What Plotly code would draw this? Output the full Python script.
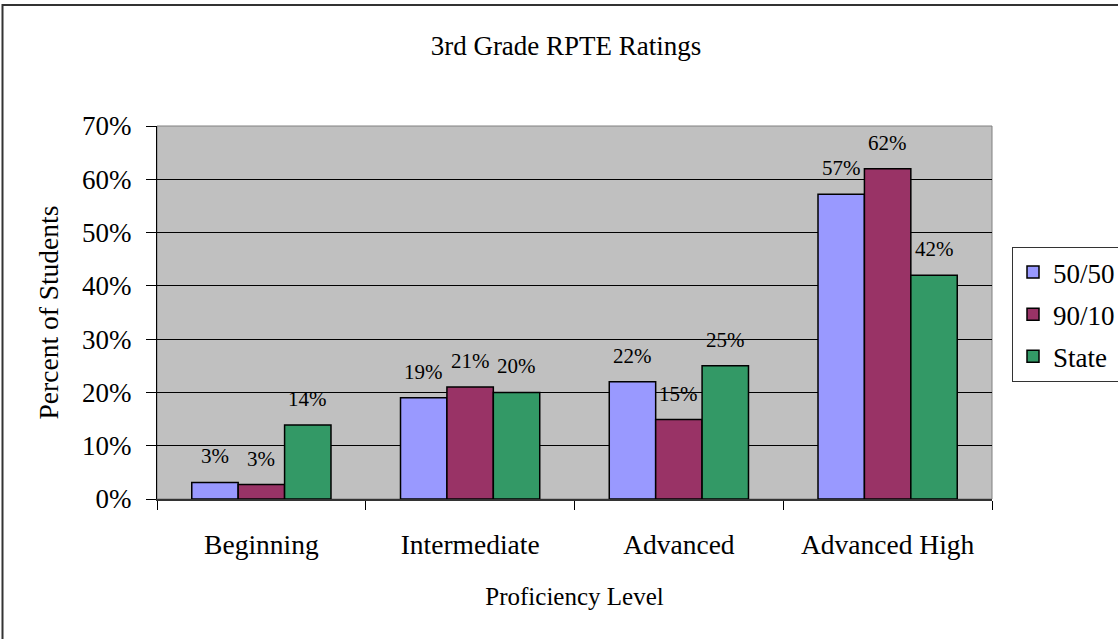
import plotly.graph_objects as go

categories = ["Beginning", "Intermediate", "Advanced", "Advanced High"]
series_names = ["50/50", "90/10", "State"]
values_5050 = [0.031, 0.19, 0.22, 0.572]
values_9010 = [0.027, 0.21, 0.149, 0.62]
values_state = [0.139, 0.20, 0.25, 0.42]
label_5050 = ["3%", "19%", "22%", "57%"]
label_9010 = ["3%", "21%", "15%", "62%"]
label_state = ["14%", "20%", "25%", "42%"]
y_ticks = [0, 0.1, 0.2, 0.3, 0.4, 0.5, 0.6, 0.7]
y_ticklabels = ["0%", "10%", "20%", "30%", "40%", "50%", "60%", "70%"]

colors = ["#9999FF", "#993366", "#339966"]
series_values = [values_5050, values_9010, values_state]
series_labels = [label_5050, label_9010, label_state]

FONT = "Liberation Serif, Times New Roman, serif"
W, H = 1118, 639
L, R, T, B = 157, 126, 126, 140
pw, ph = W - L - R, H - T - B
bargap = 0.333
bar_w = pw / len(categories) * (1 - bargap) / 3

fig = go.Figure()
for i, (name, vals) in enumerate(zip(series_names, series_values)):
    fig.add_trace(go.Bar(
        name=name, x=categories, y=vals,
        marker=dict(color=colors[i], line=dict(color="black", width=1.5)),
        legendgroup=name,
    ))

annotations = []
for i, (vals, labs) in enumerate(zip(series_values, series_labels)):
    for c, v, t in zip(categories, vals, labs):
        annotations.append(dict(
            x=c, y=v, text=t, showarrow=False, xref="x", yref="y",
            xanchor="center", yanchor="bottom",
            xshift=(i - 1) * bar_w, yshift=12,
            font=dict(family=FONT, size=21, color="black"),
        ))

def px_x(p):
    return (p - L) / pw

def px_y(p):
    return (H - B - p) / ph

fig.update_layout(
    width=W, height=H,
    margin=dict(l=L, r=R, t=T, b=B, autoexpand=False),
    paper_bgcolor="white", plot_bgcolor="#C0C0C0",
    barmode="group", bargap=bargap, bargroupgap=0,
    font=dict(family=FONT, color="black"),
    title=dict(text="3rd Grade RPTE Ratings", xref="container", yref="container",
               x=566 / W, y=1 - 46 / H, xanchor="center", yanchor="middle",
               font=dict(family=FONT, size=27, color="black")),
    legend=dict(x=px_x(1012), y=px_y(247), xanchor="left", yanchor="top",
                bordercolor="#333333", borderwidth=1, bgcolor="white",
                font=dict(family=FONT, size=27, color="black"),
                traceorder="grouped", tracegroupgap=4, entrywidth=120),
    annotations=annotations,
    shapes=[
        dict(type="rect", xref="paper", yref="paper", x0=0, y0=0, x1=1, y1=1,
             line=dict(color="#808080", width=1), layer="below"),
        dict(type="rect", xref="paper", yref="paper",
             x0=px_x(2.5), y0=px_y(5), x1=px_x(W + 20), y1=px_y(H + 20),
             line=dict(color="#333333", width=2)),
    ],
)
fig.update_xaxes(
    showline=True, linecolor="#333333", linewidth=2,
    ticks="outside", tickson="boundaries", ticklen=9, tickcolor="black",
    tickfont=dict(family=FONT, size=27.5, color="black"), ticklabelstandoff=20,
    title=dict(text="Proficiency Level", font=dict(family=FONT, size=25, color="black"), standoff=28),
    showgrid=False,
)
fig.update_yaxes(
    range=[0, 0.7], tickvals=y_ticks, ticktext=y_ticklabels,
    showline=True, linecolor="black", linewidth=1,
    ticks="outside", ticklen=10, tickcolor="black",
    tickfont=dict(family=FONT, size=27, color="black"), ticklabelstandoff=9,
    showgrid=True, gridcolor="black", gridwidth=1, zeroline=False,
    title=dict(text="Percent of Students", font=dict(family=FONT, size=27.5, color="black"), standoff=15),
)

fig.write_html("out.html", config={"displayModeBar": False},
               post_script="document.body.style.margin='0';")
